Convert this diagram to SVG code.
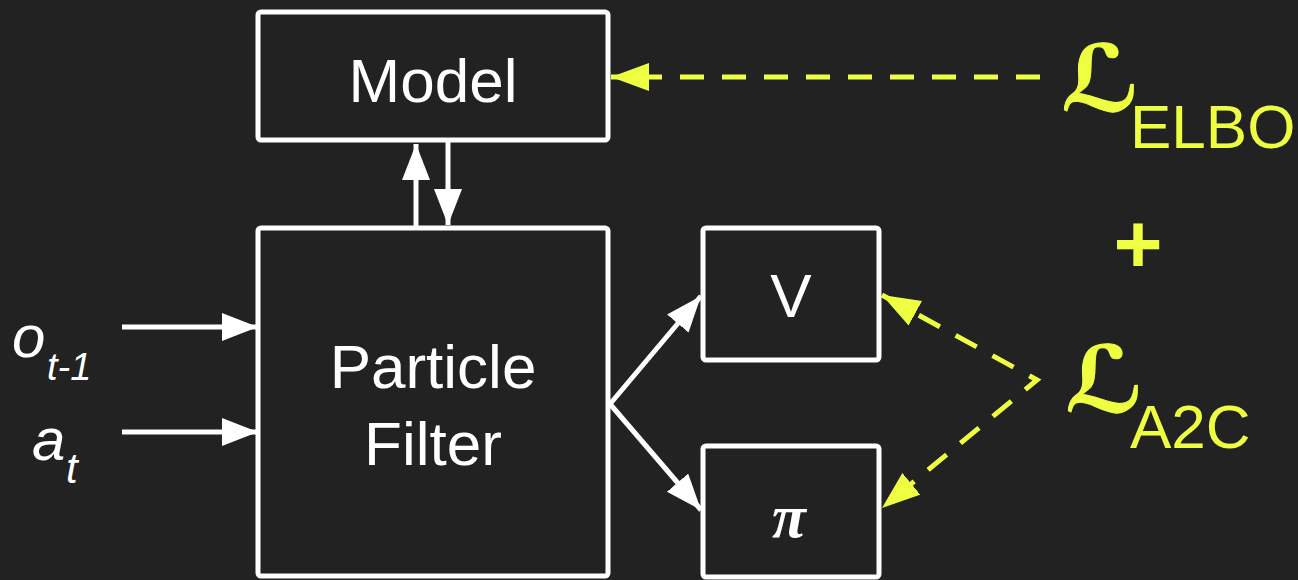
<svg xmlns="http://www.w3.org/2000/svg" width="1298" height="580" viewBox="0 0 1298 580">
  <defs>
    <style>
      .box { fill: #222222; stroke: #ffffff; stroke-width: 5; }
      .lbl { fill: #ffffff; font-family: "Liberation Sans", Arial, sans-serif; font-size: 62px; text-anchor: middle; }
      .var { fill: #ffffff; font-family: "Liberation Sans", Arial, sans-serif; font-style: italic; }
      .wline { fill: none; stroke: #ffffff; stroke-width: 5; }
      .yline { fill: none; stroke: #eeff41; stroke-width: 5; stroke-dasharray: 24 18; }
      .loss { fill: #eeff41; font-family: "Liberation Sans", Arial, sans-serif; }
      .script { fill: #eeff41; stroke: #eeff41; stroke-width: 1; stroke-linejoin: round; font-family: "DejaVu Serif", "DejaVu Sans", serif; font-weight: bold; font-size: 92px; }
    </style>
    <marker id="wh" markerUnits="userSpaceOnUse" markerWidth="38" markerHeight="30" refX="36" refY="14" orient="auto-start-reverse">
      <polygon points="0,0 36,14 0,28" fill="#ffffff"/>
    </marker>
    <marker id="yh" markerUnits="userSpaceOnUse" markerWidth="40" markerHeight="30" refX="38" refY="14" orient="auto-start-reverse">
      <polygon points="0,0 38,14 0,28" fill="#eeff41"/>
    </marker>
  </defs>
  <rect width="1298" height="580" fill="#222222"/>

  <g id="connectors">
    <line class="wline" x1="122" y1="327" x2="258" y2="327" marker-end="url(#wh)"/>
    <line class="wline" x1="122" y1="432" x2="258" y2="432" marker-end="url(#wh)"/>
    <line class="wline" x1="416" y1="226" x2="416" y2="144" marker-end="url(#wh)"/>
    <line class="wline" x1="448" y1="142" x2="448" y2="225" marker-end="url(#wh)"/>
    <line class="wline" x1="610" y1="404" x2="701" y2="296" marker-end="url(#wh)"/>
    <line class="wline" x1="610" y1="404" x2="701" y2="510" marker-end="url(#wh)"/>
    <line class="yline" x1="1040" y1="77" x2="611" y2="77" marker-end="url(#yh)"/>
    <polyline class="yline" points="882,295 1037,380 882,508" marker-start="url(#yh)" marker-end="url(#yh)"/>
  </g>

  <g id="model">
    <rect class="box" x="258" y="12" width="350" height="128" rx="3"/>
    <text class="lbl" x="433" y="102">Model</text>
  </g>
  <g id="particle-filter">
    <rect class="box" x="258" y="228" width="350" height="348" rx="3"/>
    <text class="lbl" x="433" y="388">Particle</text>
    <text class="lbl" x="433" y="465">Filter</text>
  </g>
  <g id="value">
    <rect class="box" x="703" y="228" width="176" height="132" rx="3"/>
    <text class="lbl" x="791" y="317">V</text>
  </g>
  <g id="policy">
    <rect class="box" x="703" y="446" width="176" height="131" rx="3"/>
    <text x="789" y="537" fill="#ffffff" font-family="Liberation Serif, 'Times New Roman', serif" font-size="62" font-weight="bold" font-style="italic" text-anchor="middle">π</text>
  </g>

  <g id="input-o">
    <text class="var" x="12" y="357" font-size="60">o</text>
    <text class="var" x="47" y="380" font-size="38">t-1</text>
  </g>
  <g id="input-a">
    <text class="var" x="32" y="460" font-size="60">a</text>
    <text class="var" x="66" y="483" font-size="42">t</text>
  </g>

  <g id="loss-elbo">
    <text class="script" x="1061" y="111">ℒ</text>
    <text class="loss" x="1130" y="148" font-size="62">ELBO</text>
  </g>
  <g id="plus">
    <text class="loss" x="1138" y="273" font-size="84" font-weight="bold" text-anchor="middle">+</text>
  </g>
  <g id="loss-a2c">
    <text class="script" x="1065" y="412">ℒ</text>
    <text class="loss" x="1130" y="448" font-size="62">A2C</text>
  </g>
</svg>
